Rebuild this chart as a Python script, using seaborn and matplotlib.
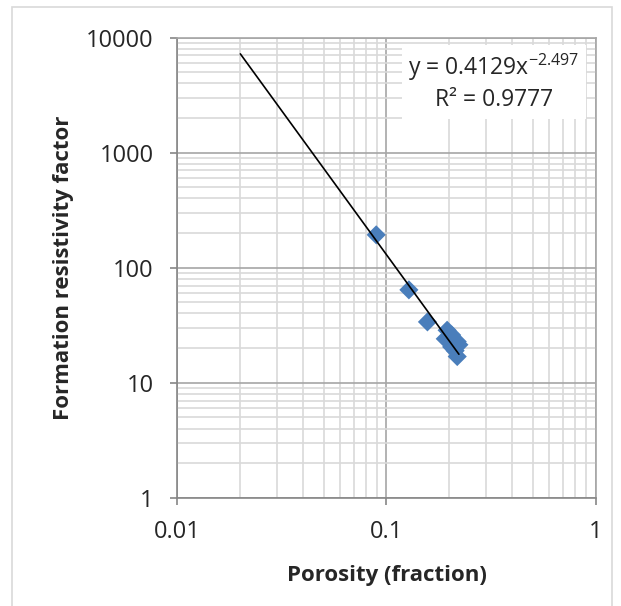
import matplotlib
matplotlib.use("Agg")
import matplotlib.pyplot as plt
import matplotlib.patches as patches
import numpy as np
import pandas as pd
import seaborn as sns

# porosity vs formation resistivity factor
porosity = [0.0893, 0.128, 0.157, 0.195, 0.191, 0.205, 0.218, 0.222, 0.205, 0.213, 0.218]
formation_factor = [193, 64.2, 33.8, 28.6, 24.1, 26.0, 22.8, 21.4, 20.5, 19.0, 16.9]

# power-law trendline from the chart's equation
coef_a = 0.4129
coef_m = -2.497
r_squared = 0.9777
trend_x = [0.02, 0.222]

x_ticks = [0.01, 0.1, 1]
x_tick_labels = ["0.01", "0.1", "1"]
y_ticks = [1, 10, 100, 1000, 10000]
y_tick_labels = ["1", "10", "100", "1000", "10000"]

sns.set_style("white")
plt.rcParams["font.family"] = ["Open Sans", "DejaVu Sans"]
plt.rcParams["mathtext.fontset"] = "custom"
plt.rcParams["mathtext.rm"] = "Open Sans"

df = pd.DataFrame({"porosity": porosity, "F": formation_factor})
tx = np.geomspace(trend_x[0], trend_x[1], 50)
trend = pd.DataFrame({"x": tx, "y": coef_a * tx ** coef_m})

fig = plt.figure(figsize=(6.21, 6.06), dpi=100)
ax = fig.add_axes([0.2857, 0.1785, 0.6733, 0.7595])

# outer chart border
fig.patches.append(patches.Rectangle((12 / 621, -0.05), 600 / 621, 1 - 7 / 606 + 0.05,
                                     transform=fig.transFigure, fill=False,
                                     edgecolor="#d9d9d9", linewidth=1.2))

ax.set_xscale("log")
ax.set_yscale("log")
ax.set_xlim(0.01, 1)
ax.set_ylim(1, 10000)

ax.grid(True, which="minor", color="#d9d9d9", linewidth=1.2, zorder=0)
ax.grid(True, which="major", color="#a6a6a6", linewidth=1.2, zorder=0)
ax.set_axisbelow(True)

# equation box
ax.add_patch(patches.Rectangle((0.537, 0.823), 0.44, 0.16, transform=ax.transAxes,
                               facecolor="white", edgecolor="none", zorder=1.5))

sns.lineplot(data=trend, x="x", y="y", color="black", linewidth=1.2, ax=ax, zorder=3)
sns.scatterplot(data=df, x="porosity", y="F", marker="D", s=95, color="#4a7ebb",
                edgecolor="none", ax=ax, zorder=2)

ax.text(0.757, 0.936, r"y = 0.4129x$^{\mathrm{-2.497}}$", transform=ax.transAxes,
        ha="center", va="center", fontsize=16.5, zorder=4)
ax.text(0.757, 0.864, "R² = " + f"{r_squared:.4f}", transform=ax.transAxes,
        ha="center", va="center", fontsize=16.5, zorder=4)

ax.set_xticks(x_ticks)
ax.set_xticklabels(x_tick_labels)
ax.set_yticks(y_ticks)
ax.set_yticklabels(y_tick_labels)
ax.tick_params(axis="both", which="major", direction="out", length=5, width=1.2,
               color="#868686", labelsize=17, bottom=True, left=True)
ax.tick_params(axis="x", which="major", pad=11)
ax.tick_params(axis="y", which="major", pad=12)
ax.tick_params(axis="both", which="minor", length=0)

for side in ["left", "bottom", "top", "right"]:
    ax.spines[side].set_color("#a6a6a6")
    ax.spines[side].set_linewidth(1.2)
ax.spines["left"].set_color("#868686")
ax.spines["bottom"].set_color("#868686")

ax.set_xlabel("Porosity (fraction)", fontsize=16, fontweight="bold", labelpad=15)
ax.set_ylabel("Formation resistivity factor", fontsize=16, fontweight="bold", labelpad=9)

fig.savefig("out.png", dpi=100)
